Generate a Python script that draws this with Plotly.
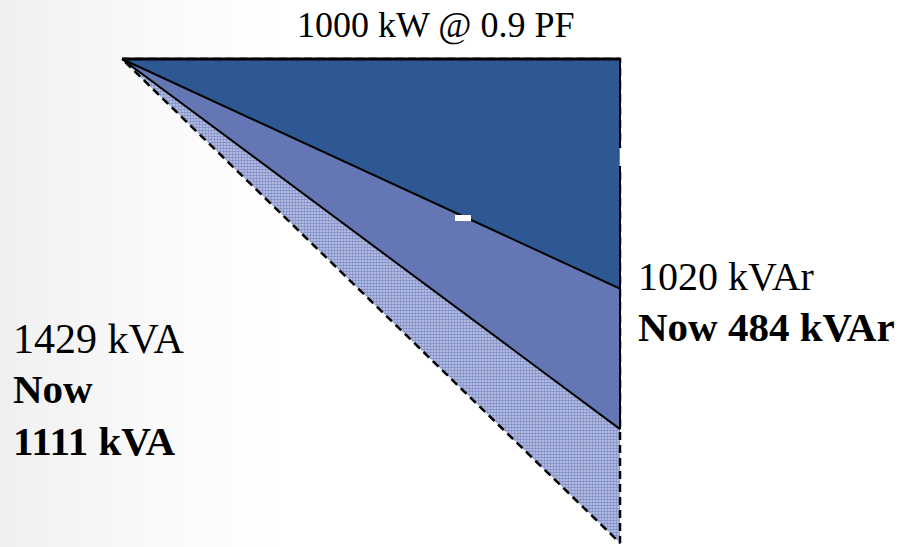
import plotly.graph_objects as go

# Power triangle: real power along the top, reactive power down the right side
real_kw = 1000
kvar_before = 1020      # original reactive power (0.7 PF)
kvar_mid = 780          # intermediate correction step
kvar_after = 484        # after correction to 0.9 PF
kva_before = 1429
kva_after = 1111
pf_target = 0.9

dark_blue = "#2e5894"
mid_blue = "#6476b4"
hatch_blue = "#3a50a4"
serif = "Liberation Serif, Times New Roman, serif"

# Axis scaling (pixels per unit) so the drawing sits where intended
px_per_kw = 0.498
px_per_kvar = 0.4745
x0_px, y0_px = 122, 59
W, H = 904, 547
x_range = [-x0_px / px_per_kw, (W - x0_px) / px_per_kw]
y_range = [(H - y0_px) / px_per_kvar, -y0_px / px_per_kvar]


def px_x(px):
    return (px - x0_px) / px_per_kw


def px_y(px):
    return (px - y0_px) / px_per_kvar


def tri(q):
    return [0, real_kw, real_kw, 0], [0, 0, q, 0]


fig = go.Figure()

# soft grey wash on the left side of the slide
fig.add_trace(go.Scatter(
    x=[x_range[0], px_x(280), px_x(280), x_range[0], x_range[0]],
    y=[y_range[1], y_range[1], y_range[0], y_range[0], y_range[1]],
    mode="none", fill="toself",
    fillgradient=dict(type="horizontal",
                      colorscale=[[0, "#f0f0f0"], [0.5, "#f9f9f9"], [1, "#ffffff"]]),
    hoverinfo="skip", showlegend=False,
))

# original triangle (checkered, dashed outline)
x, y = tri(kvar_before)
fig.add_trace(go.Scatter(
    x=x, y=y, mode="lines", fill="toself",
    fillcolor="#9ea9d6",
    fillpattern=dict(shape=".", size=3, solidity=0.6,
                     fgcolor=hatch_blue, bgcolor="#c4cbe8"),
    line=dict(color="black", width=2.5, dash="8px,5px"),
    hoverinfo="skip", showlegend=False,
))

# intermediate triangle
x, y = tri(kvar_mid)
fig.add_trace(go.Scatter(
    x=x, y=y, mode="lines", fill="toself", fillcolor=mid_blue,
    line=dict(color="black", width=2),
    hoverinfo="skip", showlegend=False,
))

# corrected triangle
x, y = tri(kvar_after)
fig.add_trace(go.Scatter(
    x=x, y=y, mode="lines", fill="toself", fillcolor=dark_blue,
    line=dict(color="black", width=2),
    hoverinfo="skip", showlegend=False,
))

# heavier real-power edge
fig.add_trace(go.Scatter(
    x=[0, real_kw], y=[0, 0], mode="lines",
    line=dict(color="black", width=3),
    hoverinfo="skip", showlegend=False,
))

# small white patches
fig.add_shape(type="rect", x0=px_x(455), x1=px_x(471), y0=px_y(215), y1=px_y(221),
              fillcolor="white", line_width=0, layer="above")
fig.add_shape(type="rect", x0=px_x(619.5), x1=px_x(622.5), y0=px_y(148), y1=px_y(166),
              fillcolor="white", line_width=0, layer="above")


def label(text, px, py, size, anchor="left", bold=False):
    if bold:
        text = f"<b>{text}</b>"
    fig.add_annotation(
        x=px / W, y=1 - py / H, xref="paper", yref="paper",
        text=text, showarrow=False, xanchor=anchor, yanchor="middle",
        font=dict(family=serif, size=size, color="black"),
    )


label(f"{real_kw} kW @ {pf_target} PF", 436, 25, 36, anchor="center")
label(f"{kvar_before} kVAr", 636, 277, 40)
label(f"Now {kvar_after} kVAr", 636, 327, 41, bold=True)
label(f"{kva_before} kVA", 11, 339, 42)
label("Now", 11, 389, 41, bold=True)
label(f"{kva_after} kVA", 11, 441, 41, bold=True)

fig.update_layout(
    width=W, height=H,
    margin=dict(l=0, r=0, t=0, b=0),
    paper_bgcolor="white", plot_bgcolor="white",
    xaxis=dict(range=x_range, visible=False, fixedrange=True),
    yaxis=dict(range=y_range, visible=False, fixedrange=True),
    showlegend=False,
)

fig.write_html("out.html")
